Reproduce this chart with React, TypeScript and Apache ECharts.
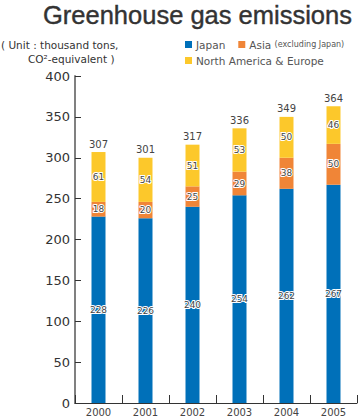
import React, { useEffect, useRef } from "react";
import * as echarts from "echarts";

const years = ["2000", "2001", "2002", "2003", "2004", "2005"];
const japan = [228, 226, 240, 254, 262, 267];
const asia = [18, 20, 25, 29, 38, 50];
const naEurope = [61, 54, 51, 53, 50, 46];
const totals = [307, 301, 317, 336, 349, 364];

const FONT = "DejaVu Sans";
const BLUE = "#0070b9";
const ORANGE = "#f08537";
const YELLOW = "#fcc82b";

export default function App() {
  const ref = useRef<HTMLDivElement>(null);
  useEffect(() => {
    if (!ref.current) return;
    const chart = echarts.init(ref.current, null, { renderer: "svg" });
    const innerLabel = {
      show: true,
      position: "inside",
      color: "#444",
      fontFamily: FONT,
      fontSize: 9,
      textBorderColor: "#fff",
      textBorderWidth: 2,
    };
    chart.setOption({
      animation: false,
      textStyle: { fontFamily: FONT },
      graphic: [
        {
          type: "text",
          x: 352,
          y: 2,
          style: {
            text: "Greenhouse gas emissions",
            font: `25.5px "Liberation Sans"`,
            fill: "#333",
            stroke: "#333",
            lineWidth: 0.4,
            align: "right",
            verticalAlign: "top",
          },
        },
        {
          type: "text",
          x: 1,
          y: 39,
          style: {
            text: "( Unit : thousand tons,",
            font: `10.5px "${FONT}"`,
            fill: "#333",
            verticalAlign: "top",
          },
        },
        {
          type: "text",
          x: 28,
          y: 53,
          style: {
            text: "CO²-equivalent )",
            font: `10.5px "${FONT}"`,
            fill: "#333",
            verticalAlign: "top",
          },
        },
      ],
      legend: [
        {
          data: ["Japan", "Asia"],
          left: 180,
          top: 34,
          itemWidth: 7,
          itemHeight: 7,
          itemGap: 13,
          icon: "rect",
          formatter: (name: string) =>
            name === "Asia" ? "Asia {s|(excluding Japan)}" : name,
          textStyle: {
            fontFamily: FONT,
            fontSize: 10.5,
            color: "#555",
            padding: [0, 0, 0, -1],
            rich: { s: { fontFamily: FONT, fontSize: 8, color: "#555" } },
          },
        },
        {
          data: ["North America & Europe"],
          left: 180,
          top: 50,
          itemWidth: 7,
          itemHeight: 7,
          icon: "rect",
          textStyle: { fontFamily: FONT, fontSize: 10.5, color: "#555", padding: [0, 0, 0, -1] },
        },
      ],
      grid: { left: 75, right: 3, top: 76, bottom: 15, containLabel: false },
      xAxis: {
        type: "category",
        data: years,
        boundaryGap: true,
        axisLine: { lineStyle: { color: "#333", width: 1 } },
        axisTick: { show: true, inside: true, length: 8, lineStyle: { color: "#333" } },
        axisLabel: { color: "#444", fontFamily: FONT, fontSize: 10, margin: 4, lineHeight: 10 },
      },
      yAxis: {
        type: "value",
        min: 0,
        max: 400,
        interval: 50,
        splitLine: { show: false },
        axisLine: { show: true, lineStyle: { color: "#808080", width: 2 } },
        axisTick: { show: true, inside: true, length: 6, lineStyle: { color: "#333" } },
        axisLabel: { color: "#333", fontFamily: FONT, fontSize: 13, margin: 5 },
      },
      series: [
        {
          name: "Japan",
          type: "bar",
          stack: "a",
          barWidth: 14,
          data: japan,
          itemStyle: { color: BLUE },
          label: innerLabel,
        },
        {
          name: "Asia",
          type: "bar",
          stack: "a",
          data: asia,
          itemStyle: { color: ORANGE },
          label: innerLabel,
        },
        {
          name: "North America & Europe",
          type: "bar",
          stack: "a",
          data: naEurope,
          itemStyle: { color: YELLOW },
          label: innerLabel,
        },
        {
          name: "Total",
          type: "bar",
          stack: "a",
          data: totals.map(() => 0),
          itemStyle: { color: "transparent" },
          label: {
            show: true,
            position: "top",
            distance: 3,
            color: "#444",
            fontFamily: FONT,
            fontSize: 10,
            formatter: (p: any) => String(totals[p.dataIndex]),
          },
        },
      ],
    });
    return () => chart.dispose();
  }, []);
  return (
    <div
      ref={ref}
      style={{ position: "absolute", left: 0, top: 0, width: 360, height: 418 }}
    />
  );
}
